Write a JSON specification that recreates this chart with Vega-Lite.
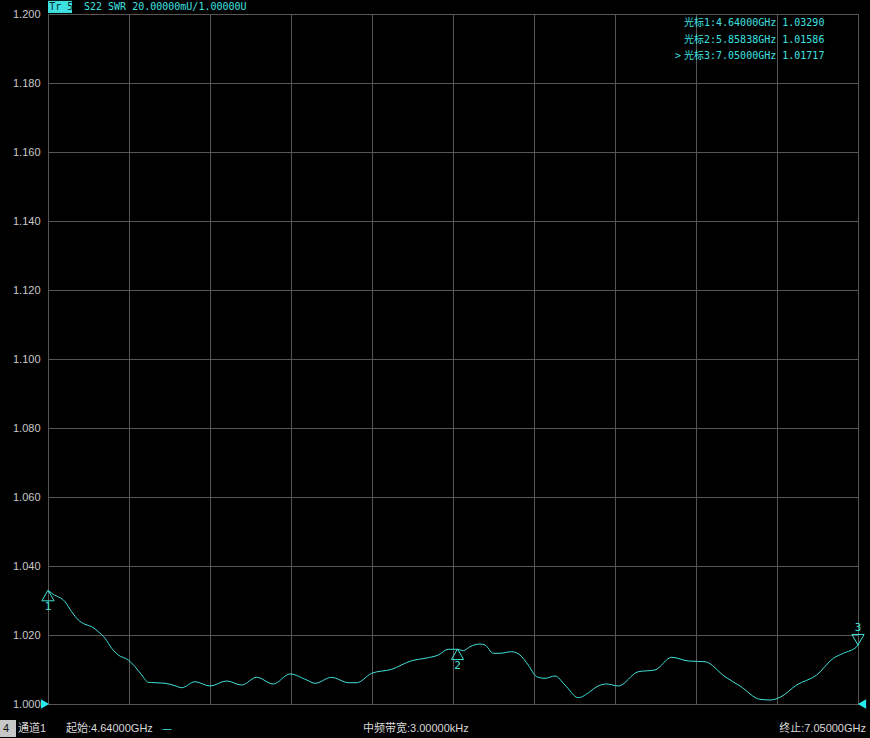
{
  "$schema": "https://vega.github.io/schema/vega-lite/v6.json",
  "width": 810,
  "height": 690,
  "autosize": {"type": "none"},
  "padding": {"left": 48, "top": 14, "right": 12, "bottom": 34},
  "background": "#000000",
  "config": {
    "view": {"stroke": "#6a6a6a", "strokeWidth": 1}
  },
  "datasets": {
    "trace": [
      {"f": 4.640, "v": 1.03290}, {"f": 4.6558, "v": 1.03180}, {"f": 4.6906, "v": 1.02965}, {"f": 4.7105, "v": 1.02675},
      {"f": 4.7302, "v": 1.02435}, {"f": 4.7501, "v": 1.02310}, {"f": 4.7700, "v": 1.02241}, {"f": 4.7897, "v": 1.02096},
      {"f": 4.8096, "v": 1.01904}, {"f": 4.8295, "v": 1.01614}, {"f": 4.8492, "v": 1.01420}, {"f": 4.8789, "v": 1.01275},
      {"f": 4.8989, "v": 1.01081}, {"f": 4.9188, "v": 1.00841}, {"f": 4.9384, "v": 1.00629}, {"f": 4.9584, "v": 1.00617},
      {"f": 4.9881, "v": 1.00600}, {"f": 5.0179, "v": 1.00530}, {"f": 5.0378, "v": 1.00472}, {"f": 5.0774, "v": 1.00646},
      {"f": 5.1220, "v": 1.00522}, {"f": 5.1717, "v": 1.00667}, {"f": 5.2163, "v": 1.00551}, {"f": 5.2610, "v": 1.00774},
      {"f": 5.3103, "v": 1.00580}, {"f": 5.3600, "v": 1.00870}, {"f": 5.4097, "v": 1.00696}, {"f": 5.4344, "v": 1.00600},
      {"f": 5.4841, "v": 1.00774}, {"f": 5.5335, "v": 1.00617}, {"f": 5.5585, "v": 1.00617}, {"f": 5.6031, "v": 1.00890},
      {"f": 5.6626, "v": 1.01006}, {"f": 5.7221, "v": 1.01255}, {"f": 5.7617, "v": 1.01325}, {"f": 5.8013, "v": 1.01420},
      {"f": 5.8310, "v": 1.01586}, {"f": 5.85838, "v": 1.01586}, {"f": 5.8756, "v": 1.01545}, {"f": 5.8956, "v": 1.01661},
      {"f": 5.9253, "v": 1.01739}, {"f": 5.9402, "v": 1.01710}, {"f": 5.9649, "v": 1.01470}, {"f": 5.9848, "v": 1.01470},
      {"f": 6.0196, "v": 1.01516}, {"f": 6.0443, "v": 1.01420}, {"f": 6.0690, "v": 1.01130}, {"f": 6.0940, "v": 1.00791},
      {"f": 6.1187, "v": 1.00745}, {"f": 6.1485, "v": 1.00812}, {"f": 6.1782, "v": 1.00551}, {"f": 6.2178, "v": 1.00183},
      {"f": 6.2526, "v": 1.00357}, {"f": 6.2725, "v": 1.00501}, {"f": 6.3023, "v": 1.00580}, {"f": 6.3368, "v": 1.00522},
      {"f": 6.3963, "v": 1.00936}, {"f": 6.4460, "v": 1.00986}, {"f": 6.4957, "v": 1.01354}, {"f": 6.5451, "v": 1.01246},
      {"f": 6.5948, "v": 1.01226}, {"f": 6.6543, "v": 1.00791}, {"f": 6.6989, "v": 1.00522}, {"f": 6.7584, "v": 1.00136},
      {"f": 6.7882, "v": 1.00116}, {"f": 6.8179, "v": 1.00194}, {"f": 6.8676, "v": 1.00551}, {"f": 6.9271, "v": 1.00841},
      {"f": 6.9765, "v": 1.01325}, {"f": 7.0063, "v": 1.01470}, {"f": 7.0461, "v": 1.01661}, {"f": 7.0500, "v": 1.01717}
    ],
    "markers": [
      {"f": 4.64, "v": 1.03290, "n": "1", "dir": "up"},
      {"f": 5.85838, "v": 1.01586, "n": "2", "dir": "up"},
      {"f": 7.05, "v": 1.01717, "n": "3", "dir": "down"}
    ],
    "refs": [
      {"f": 4.64, "v": 1.0, "side": "left"},
      {"f": 7.05, "v": 1.0, "side": "right"}
    ],
    "trbox": [{"f": 4.64, "f2": 4.7114, "v": 1.2003, "v2": 1.2038}],
    "trtext": [{"f": 4.6435, "v": 1.20215, "t": "Tr 5"}],
    "header": [{"f": 4.7471, "v": 1.20215, "t": "S22 SWR 20.00000mU/1.00000U"}],
    "readout": [
      {"f": 6.5323, "v": 1.19739, "t": "光标1:4.64000GHz 1.03290"},
      {"f": 6.5323, "v": 1.19246, "t": "光标2:5.85838GHz 1.01586"},
      {"f": 6.5323, "v": 1.18783, "t": "光标3:7.05000GHz 1.01717"},
      {"f": 6.5055, "v": 1.18783, "t": ">"}
    ],
    "chbox": [{"f": 4.4972, "f2": 4.5448, "v": 0.99536, "v2": 0.99043}],
    "chtext": [{"f": 4.5061, "v": 0.99275, "t": "4"}],
    "status": [
      {"f": 4.5507, "v": 0.99275, "t": "通道1"},
      {"f": 4.6936, "v": 0.99275, "t": "起始:4.64000GHz"},
      {"f": 5.5772, "v": 0.99275, "t": "中频带宽:3.00000kHz"}
    ],
    "statusRight": [
      {"f": 7.0738, "v": 0.99275, "t": "终止:7.05000GHz"}
    ],
    "dash": [{"f": 4.9792, "v": 0.99275, "t": "—"}]
  },
  "encoding": {
    "x": {
      "field": "f", "type": "quantitative",
      "scale": {"domain": [4.64, 7.05], "nice": false, "zero": false},
      "axis": {
        "values": [4.64, 4.881, 5.122, 5.363, 5.604, 5.845, 6.086, 6.327, 6.568, 6.809, 7.05],
        "grid": true, "gridColor": "#565656", "gridWidth": 1,
        "labels": false, "ticks": false, "domain": false, "title": null
      }
    },
    "y": {
      "field": "v", "type": "quantitative",
      "scale": {"domain": [1.0, 1.2], "nice": false, "zero": false},
      "axis": {
        "values": [1.0, 1.02, 1.04, 1.06, 1.08, 1.1, 1.12, 1.14, 1.16, 1.18, 1.2],
        "format": ".3f",
        "grid": true, "gridColor": "#565656", "gridWidth": 1,
        "ticks": false, "domain": false, "title": null,
        "labelColor": "#c8c8c8", "labelFont": "Liberation Sans", "labelFontSize": 11,
        "labelPadding": 8, "labelOverlap": false, "labelFlush": false
      }
    }
  },
  "layer": [
    {
      "data": {"name": "trace"},
      "mark": {"type": "line", "color": "#40e0d8", "strokeWidth": 1, "interpolate": "monotone"}
    },
    {
      "data": {"name": "markers"},
      "transform": [{"filter": "datum.dir == 'up'"}],
      "mark": {"type": "point", "shape": "triangle-up", "filled": false, "stroke": "#40e0d8", "strokeWidth": 1, "size": 150, "yOffset": 5, "opacity": 1}
    },
    {
      "data": {"name": "markers"},
      "transform": [{"filter": "datum.dir == 'down'"}],
      "mark": {"type": "point", "shape": "triangle-down", "filled": false, "stroke": "#40e0d8", "strokeWidth": 1, "size": 150, "yOffset": -5, "opacity": 1}
    },
    {
      "data": {"name": "markers"},
      "transform": [{"filter": "datum.dir == 'up'"}],
      "mark": {"type": "text", "color": "#40e0d8", "font": "DejaVu Sans Mono", "fontSize": 11, "yOffset": 17, "baseline": "middle"},
      "encoding": {"text": {"field": "n"}}
    },
    {
      "data": {"name": "markers"},
      "transform": [{"filter": "datum.dir == 'down'"}],
      "mark": {"type": "text", "color": "#40e0d8", "font": "DejaVu Sans Mono", "fontSize": 11, "yOffset": -17, "baseline": "middle"},
      "encoding": {"text": {"field": "n"}}
    },
    {
      "data": {"name": "refs"},
      "transform": [{"filter": "datum.side == 'left'"}],
      "mark": {"type": "point", "shape": "triangle-right", "filled": true, "color": "#28e8f0", "size": 90, "xOffset": -3, "opacity": 1}
    },
    {
      "data": {"name": "refs"},
      "transform": [{"filter": "datum.side == 'right'"}],
      "mark": {"type": "point", "shape": "triangle-left", "filled": true, "color": "#28e8f0", "size": 90, "xOffset": 4, "opacity": 1}
    },
    {
      "data": {"name": "trbox"},
      "mark": {"type": "rect", "color": "#3ee0e0"},
      "encoding": {"x2": {"field": "f2"}, "y2": {"field": "v2"}}
    },
    {
      "data": {"name": "trtext"},
      "mark": {"type": "text", "align": "left", "baseline": "middle", "color": "#0a2a2a", "font": "DejaVu Sans Mono", "fontSize": 10},
      "encoding": {"text": {"field": "t"}}
    },
    {
      "data": {"name": "header"},
      "mark": {"type": "text", "align": "left", "baseline": "middle", "color": "#3ee0e0", "font": "DejaVu Sans Mono", "fontSize": 10},
      "encoding": {"text": {"field": "t"}}
    },
    {
      "data": {"name": "readout"},
      "mark": {"type": "text", "align": "left", "baseline": "middle", "color": "#3ee0e0", "font": "DejaVu Sans Mono, Noto Sans CJK SC", "fontSize": 10},
      "encoding": {"text": {"field": "t"}}
    },
    {
      "data": {"name": "chbox"},
      "mark": {"type": "rect", "color": "#c8c8c8"},
      "encoding": {"x2": {"field": "f2"}, "y2": {"field": "v2"}}
    },
    {
      "data": {"name": "chtext"},
      "mark": {"type": "text", "align": "left", "baseline": "middle", "color": "#101010", "font": "Liberation Sans", "fontSize": 11},
      "encoding": {"text": {"field": "t"}}
    },
    {
      "data": {"name": "status"},
      "mark": {"type": "text", "align": "left", "baseline": "middle", "color": "#d8d8d8", "font": "Liberation Sans, Noto Sans CJK SC", "fontSize": 11},
      "encoding": {"text": {"field": "t"}}
    },
    {
      "data": {"name": "statusRight"},
      "mark": {"type": "text", "align": "right", "baseline": "middle", "color": "#d8d8d8", "font": "Liberation Sans, Noto Sans CJK SC", "fontSize": 11},
      "encoding": {"text": {"field": "t"}}
    },
    {
      "data": {"name": "dash"},
      "mark": {"type": "text", "align": "left", "baseline": "middle", "color": "#3ee0e0", "font": "DejaVu Sans", "fontSize": 10},
      "encoding": {"text": {"field": "t"}}
    }
  ]
}
